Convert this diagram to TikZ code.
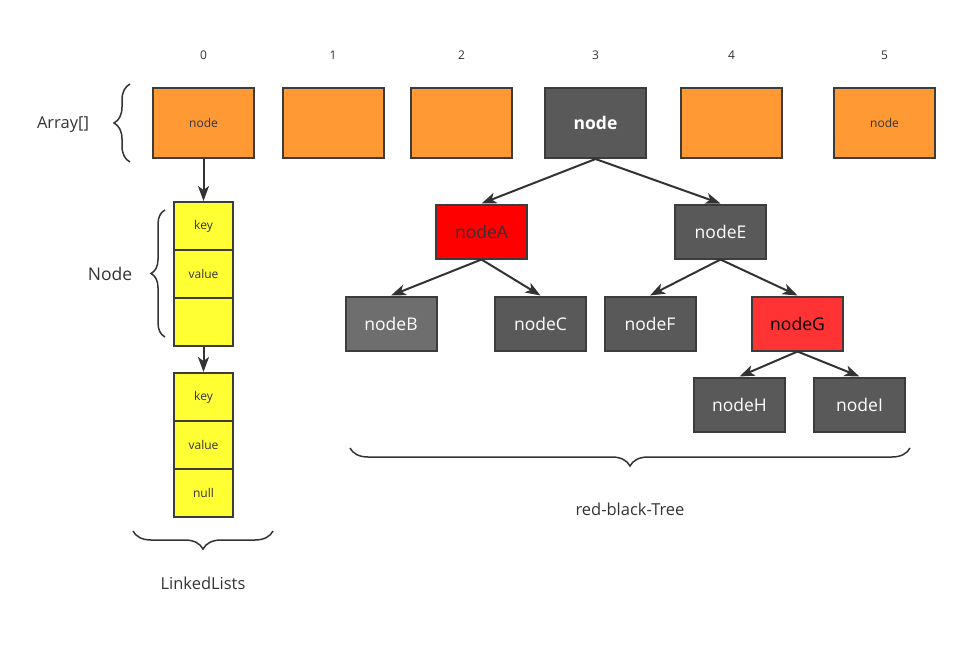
\documentclass[tikz,border=0pt]{standalone}
\usepackage{fontspec}
\setmainfont{Open Sans}
\usetikzlibrary{arrows.meta,decorations.pathreplacing}
\definecolor{ink}{HTML}{333333}
\definecolor{rim}{HTML}{3C3C3C}
\definecolor{slot}{HTML}{FF9933}
\definecolor{blk}{HTML}{595959}
\definecolor{blklight}{HTML}{6E6E6E}
\definecolor{redA}{HTML}{FF0000}
\definecolor{redG}{HTML}{FF3333}
\definecolor{cell}{HTML}{FFFF33}

\begin{document}
\begin{tikzpicture}[x=1pt,y=-1pt,
  small/.style={font=\fontsize{12}{15}\selectfont,text=ink},
  big/.style={font=\fontsize{16.5}{20}\selectfont,text=ink},
  slotbox/.style={draw=rim,line width=2pt,fill=slot,minimum width=101pt,minimum height=70pt,small},
  cellbox/.style={draw=rim,line width=2pt,fill=cell,minimum width=59pt,minimum height=48pt,small},
  treebox/.style={draw=rim,line width=2pt,fill=blk,minimum width=91pt,minimum height=54pt,text=white,font=\fontsize{17.5}{21}\selectfont},
  link/.style={draw=ink,line width=2pt,-{Stealth[length=15pt,width=11pt,inset=4pt]}},
  curly/.style={draw=ink,line width=1.5pt,decorate,decoration={brace,amplitude=#1}}]
  \useasboundingbox (0,0) rectangle (959,657);

  % array slots
  \node[slotbox] (a0) at (203.5,123) {node};
  \node[slotbox] (a1) at (333,123) {};
  \node[slotbox] (a2) at (461.5,123) {};
  \node[slotbox,fill=blk,text=white,font=\bfseries\fontsize{17.5}{21}\selectfont] (a3) at (595.5,123) {node};
  \node[slotbox] (a4) at (731.5,123) {};
  \node[slotbox] (a5) at (884.5,123) {node};
  \foreach \i/\x in {0/203.5,1/333,2/461.5,3/595.5,4/731.5,5/884.5}
    \node[small] (idx\i) at (\x,55) {\i};
  \node[big] (arr) at (63,125) {Array[]};
  \draw[curly=16pt] (130,162) -- (130,84);

  % linked list
  \node[cellbox] (k1) at (203.5,226) {key};
  \node[cellbox] (v1) at (203.5,274) {value};
  \node[cellbox] (e1) at (203.5,322) {};
  \node[cellbox] (k2) at (203.5,397) {key};
  \node[cellbox] (v2) at (203.5,445) {value};
  \node[cellbox] (n2) at (203.5,493) {null};
  \draw[link] (a0.south) -- (k1.north);
  \draw[link] (e1.south) -- (k2.north);
  \node[big,font=\fontsize{17.5}{21}\selectfont] (nd) at (110,274) {Node};
  \draw[curly=14pt] (165,337) -- (165,210);
  \draw[curly=18pt] (273,531) -- (133,531);
  \node[big] (ll) at (203,583) {LinkedLists};

  % red-black tree
  \node[treebox,fill=redA,text=ink] (A) at (481.5,231.5) {nodeA};
  \node[treebox] (E) at (720.5,231.5) {nodeE};
  \node[treebox,fill=blklight] (B) at (391,323.5) {nodeB};
  \node[treebox] (C) at (540.5,323.5) {nodeC};
  \node[treebox] (F) at (650,323.5) {nodeF};
  \node[treebox,fill=redG,text=black] (G) at (797.5,323.5) {nodeG};
  \node[treebox] (H) at (739.5,404.5) {nodeH};
  \node[treebox] (I) at (859.5,404.5) {nodeI};
  \foreach \p/\c in {a3/A,a3/E,A/B,A/C,E/F,E/G,G/H,G/I}
    \draw[link] (\p.south) -- (\c.north);
  \draw[curly=18pt] (910,448) -- (350,448);
  \node[big] (rbt) at (630,509) {red-black-Tree};
\end{tikzpicture}
\end{document}
